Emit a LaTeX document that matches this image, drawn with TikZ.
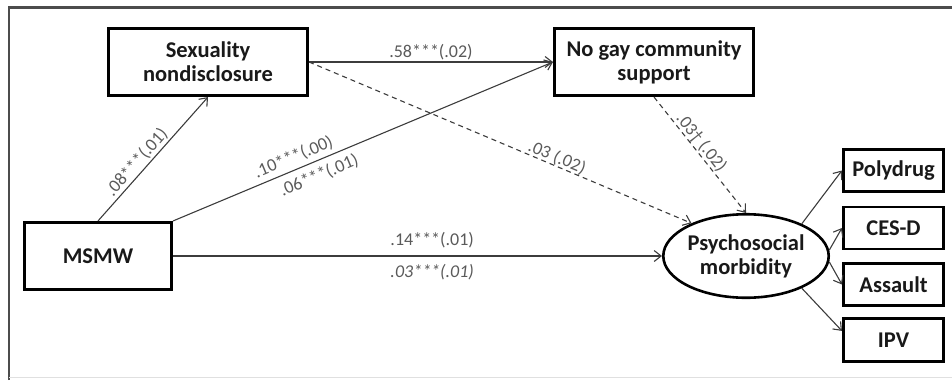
\documentclass[tikz,border=0pt]{standalone}
\usepackage{fontspec}
\setmainfont{Carlito}
\usetikzlibrary{arrows.meta,shapes.geometric}
\definecolor{linegray}{HTML}{3C3C3C}
\definecolor{labgray}{HTML}{5A5A5A}
\begin{document}
\begin{tikzpicture}[x=1pt,y=-1pt,
  box/.style={draw=black, line width=2.6pt, rectangle, align=center,
    font=\fontsize{22.5}{24}\selectfont\bfseries, text=black!90, inner sep=0pt},
  oval/.style={draw=black, line width=2.6pt, ellipse, align=center,
    font=\fontsize{22.5}{24}\selectfont\bfseries, text=black!90, inner sep=0pt,
    minimum width=143.5pt, minimum height=83.5pt},
  conn/.style={draw=linegray, line width=1.1pt, -{Straight Barb[length=7pt,width=11pt]}},
  dconn/.style={conn, dash pattern=on 5pt off 4pt},
  lab/.style={font=\fontsize{18}{20}\selectfont, text=labgray},
]
\useasboundingbox (0,0) rectangle (952,380);
% frame
\draw[draw=black!70, line width=2.4pt] (9,380) -- (9,7.5) -- (952,7.5);
\draw[draw=black!12, line width=1pt] (9,377.5) -- (952,377.5);

% nodes
\node[box, minimum width=199.5pt, minimum height=67.5pt] (sex) at (208,62) {Sexuality\\nondisclosure};
\node[box, minimum width=199.5pt, minimum height=67.5pt] (nogay) at (654,62) {No gay community\\support};
\node[box, minimum width=147.5pt, minimum height=67.5pt] (msmw) at (98,256) {MSMW};
\node[oval] (psy) at (746,256) {Psychosocial\\morbidity};
\node[box, minimum width=100.5pt, minimum height=42.5pt] (poly) at (893.5,170.5) {Polydrug};
\node[box, minimum width=100.5pt, minimum height=42pt] (cesd) at (893.5,228) {CES-D};
\node[box, minimum width=100.5pt, minimum height=42.5pt] (assault) at (893.5,284.5) {Assault};
\node[box, minimum width=100.5pt, minimum height=43.5pt] (ipv) at (893.5,340) {IPV};

% connectors
\draw[conn] (msmw.north) -- node[lab, sloped, above, pos=0.42, inner sep=1.5pt] (l1) {.08***(.01)} (sex.south);
\draw[conn] (sex.east) -- node[lab, above, pos=0.5, inner sep=1pt] (l2) {.58***(.02)} (nogay.west);
\draw[conn] (msmw.north east) --
  node[lab, sloped, above, pos=0.33, inner sep=4pt] (l3) {.10***(.00)}
  node[lab, sloped, below, pos=0.37, inner sep=6pt] (l4) {.06***(.01)} (nogay.west);
\draw[dconn] (sex.east) -- node[lab, sloped, above, pos=0.64, inner sep=0pt] (l5) {.03 (.02)} (psy.149);
\draw[dconn] (nogay.south) -- node[lab, sloped, above, pos=0.44, inner sep=0pt] (l6) {.03† (.02)} (psy.north);
\draw[conn] (msmw.east) --
  node[lab, above, pos=0.53, inner sep=7pt] (l7) {.14***(.01)}
  node[lab, below, pos=0.53, inner sep=8pt, font=\fontsize{18}{20}\selectfont\itshape] (l8) {.03***(.01)} (psy.west);
\draw[conn] (psy.30) -- (poly.west);
\draw[conn] (psy.4) -- (cesd.west);
\draw[conn] (psy.-4) -- (assault.west);
\draw[conn] (psy.-30) -- (ipv.170);
\end{tikzpicture}
\end{document}
